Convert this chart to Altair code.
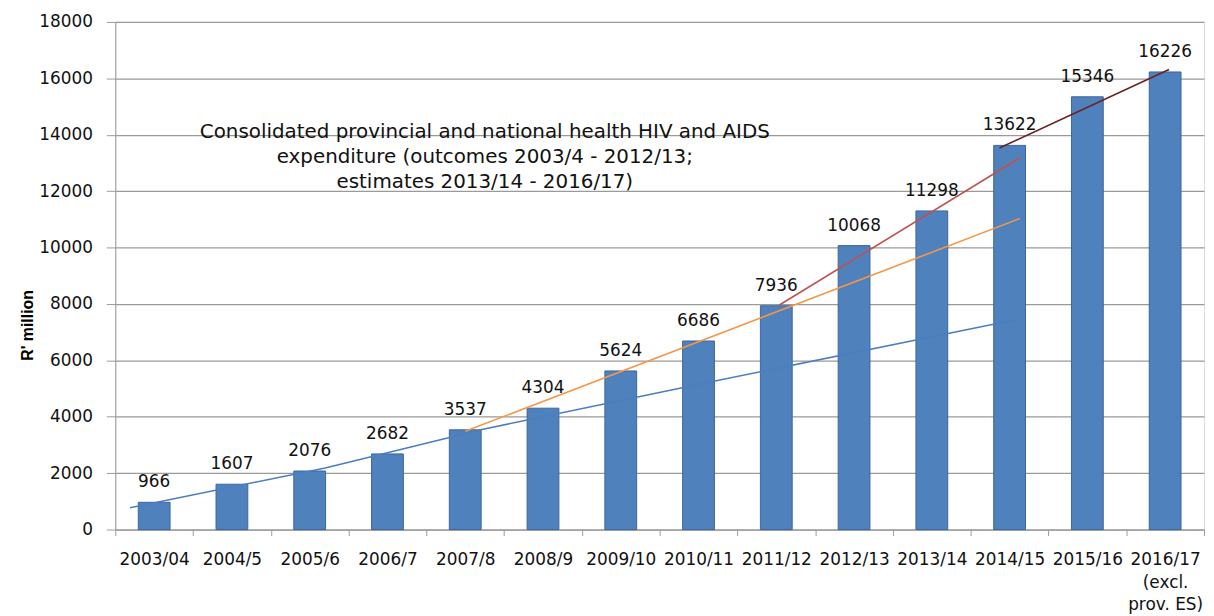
import altair as alt
import pandas as pd

categories = ["2003/04", "2004/5", "2005/6", "2006/7", "2007/8", "2008/9", "2009/10",
              "2010/11", "2011/12", "2012/13", "2013/14", "2014/15", "2015/16", "2016/17"]
values = [966, 1607, 2076, 2682, 3537, 4304, 5624, 6686, 7936, 10068, 11298, 13622, 15346, 16226]
last_label_lines = ["2016/17", "(excl.", "prov. ES)"]
y_ticks = [0, 2000, 4000, 6000, 8000, 10000, 12000, 14000, 16000, 18000]

# Trend lines (category index, R' million)
blue_x = [-0.31, 2.2, 4.23, 6.99, 11.13]
blue_y = [775, 2184, 3558, 5144, 7469]
orange_x = [4.0, 11.13]
orange_y = [3488, 11027]
red_x = [8.04, 11.13]
red_y = [7962, 13176]
maroon_x = [10.87, 13.05]
maroon_y = [13529, 16311]

title_lines = ["Consolidated provincial and national health HIV  and AIDS",
               "expenditure (outcomes 2003/4 - 2012/13;",
               "estimates 2013/14 - 2016/17)"]

bars_df = pd.DataFrame({"year": categories, "value": values})

trend_rows = []
for name, xs, ys in [("blue", blue_x, blue_y), ("orange", orange_x, orange_y),
                     ("red", red_x, red_y), ("maroon", maroon_x, maroon_y)]:
    for i, (a, b) in enumerate(zip(xs, ys)):
        trend_rows.append({"line": name, "idx": a, "v": b, "order": i})
trend_df = pd.DataFrame(trend_rows)

GRID = "#9a9a9a"
y_scale = alt.Scale(domain=[0, 18000], nice=False, zero=True)
y_axis = alt.Axis(values=y_ticks, format="d", title="R' million", grid=True, gridColor=GRID,
                  gridWidth=1.2, domainColor=GRID, tickColor=GRID, tickSize=9, labelPadding=14,
                  labelFont="DejaVu Sans", labelFontSize=17, labelColor="#111111",
                  titleFont="Liberation Sans", titleFontSize=16, titleFontWeight="bold",
                  titleColor="#000000", titleAngle=-90, titleX=-88, titleY=305,
                  titleAlign="center", titleBaseline="middle")

label_expr = ("datum.value == '%s' ? [%s] : datum.label"
              % (categories[-1], ", ".join("'%s'" % s for s in last_label_lines)))

x_band = alt.X("year:N", sort=None,
               scale=alt.Scale(paddingInner=0, paddingOuter=0),
               axis=alt.Axis(title=None, labelAngle=0, tickBand="extent", tickSize=6,
                             tickColor=GRID, domainColor=GRID, labelPadding=16,
                             labelBaseline="top", labelFont="DejaVu Sans", labelFontSize=17,
                             labelColor="#111111", labelLineHeight=23, labelExpr=label_expr))

base = alt.Chart(bars_df)
bars = base.mark_bar(width=32, color="#4F81BD", stroke="#3B679A", strokeWidth=1).encode(
    x=x_band,
    y=alt.Y("value:Q", scale=y_scale, axis=y_axis),
)
labels = base.mark_text(dy=-20, baseline="middle", align="center", font="DejaVu Sans",
                        fontSize=17, color="#111111").encode(
    x=x_band,
    y=alt.Y("value:Q", scale=y_scale, axis=y_axis),
    text=alt.Text("value:Q", format="d"),
)
bar_layer = alt.layer(bars, labels)

trend = alt.Chart(trend_df).mark_line(strokeWidth=1.6).encode(
    x=alt.X("idx:Q", scale=alt.Scale(domain=[-0.5, 13.5], nice=False, zero=False), axis=None),
    y=alt.Y("v:Q", scale=y_scale, axis=y_axis),
    color=alt.Color("line:N", legend=None,
                    scale=alt.Scale(domain=["blue", "orange", "red", "maroon"],
                                    range=["#4A7EC0", "#F79646", "#C0504D", "#6B2222"])),
    detail="line:N",
    order="order:Q",
)

title_df = pd.DataFrame({"k": [0]})
title_text = alt.Chart(title_df).mark_text(
    align="center", baseline="middle", font="DejaVu Sans", fontSize=20, fontWeight="normal",
    color="#111111", lineHeight=25
).encode(x=alt.value(372), y=alt.value(111), text=alt.value(title_lines))

chart = alt.layer(bar_layer, trend, title_text).resolve_scale(x="independent").properties(
    width=1096, height=511,
    autosize=alt.AutoSizeParams(type="none"),
    padding={"left": 108, "top": 12, "right": 2, "bottom": 85},
).configure_view(fill="#e6e6e6", stroke="transparent").configure(background="white")

chart.save("out.html", embed_options={"renderer": "svg", "actions": False})
